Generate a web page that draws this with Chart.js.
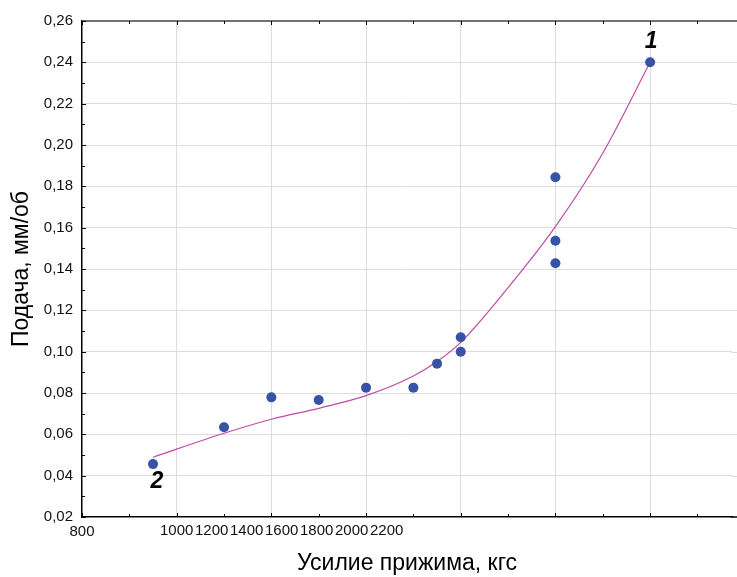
<!DOCTYPE html>
<html>
<head>
<meta charset="utf-8">
<script src="https://cdn.jsdelivr.net/npm/chart.js@4.4.1/dist/chart.umd.min.js"></script>
<style>
  html, body { margin: 0; padding: 0; background: #fff; }
</style>
</head>
<body>
<canvas id="chart" width="737" height="577"></canvas>
<script>
// --- DATA ---
// measured points
const pointsX = [950, 1100, 1200, 1300, 1400, 1500, 1550, 1600, 1600, 1800, 1800, 1800, 2000];
const pointsY = [0.0456, 0.0634, 0.0779, 0.0766, 0.0826, 0.0826, 0.0942, 0.1070, 0.1000, 0.1844, 0.1537, 0.1428, 0.2400];

// fitted curve
const curveX = [950, 1100, 1200, 1300, 1400, 1500, 1550, 1600, 1700, 1800, 1900, 2000];
const curveY = [0.0489, 0.0605, 0.0673, 0.0726, 0.0787, 0.0882, 0.0952, 0.1045, 0.1310, 0.1605, 0.1960, 0.2400];

// axis ticks
const xTicks = [800, 1000, 1200, 1400, 1600, 1800, 2000];
const xTickLabels = ['800', '1000', '1200', '1400', '1600', '1800', '2000', '2200'];
const yTicks = [0.02, 0.04, 0.06, 0.08, 0.10, 0.12, 0.14, 0.16, 0.18, 0.20, 0.22, 0.24, 0.26];

// curve end markers
const markText = ['1', '2'];
const markX = [2000, 950];
const markY = [0.24, 0.0456];

const FONT = "'Liberation Sans', Arial, sans-serif";

// --- extra drawing: inner ticks, frame, squeezed x labels, curve numbers ---
const decor = {
    id: 'decor',
    beforeDatasetsDraw(chart) {
        // horizontal grid runs on to the right edge of the picture
        const ctx = chart.ctx, ys = chart.scales.y, area = chart.chartArea;
        ctx.save();
        ctx.strokeStyle = '#dcdcdc';
        ctx.lineWidth = 1;
        yTicks.slice(1, -1).forEach(v => {
            const y = Math.round(ys.getPixelForValue(v)) + 0.5;
            ctx.beginPath();
            ctx.moveTo(area.right - 1, y);
            ctx.lineTo(chart.width, y);
            ctx.stroke();
        });
        ctx.restore();
    },
    afterDraw(chart) {
        const ctx = chart.ctx;
        const xs = chart.scales.x, ys = chart.scales.y;
        const area = chart.chartArea;
        ctx.save();

        // top frame line, and the frame runs on to the edge of the picture
        ctx.strokeStyle = '#444';
        ctx.lineWidth = 1.5;
        ctx.beginPath();
        ctx.moveTo(area.left, area.top);
        ctx.lineTo(chart.width, area.top);
        ctx.stroke();
        ctx.strokeStyle = '#000';
        ctx.beginPath();
        ctx.moveTo(area.right - 1, area.bottom);
        ctx.lineTo(chart.width, area.bottom);
        ctx.stroke();

        // inner tick marks
        ctx.lineWidth = 1;
        for (let i = 0; i <= 24; i++) {
            const y = Math.round(ys.getPixelForValue(0.02 + i * 0.01)) + 0.5;
            const len = i % 2 === 0 ? 4 : 3;
            ctx.beginPath();
            ctx.moveTo(area.left, y);
            ctx.lineTo(area.left + len, y);
            ctx.stroke();
        }
        for (let v = 800; v <= 2100; v += 100) {
            const x = Math.round(xs.getPixelForValue(v)) + 0.5;
            const len = v % 200 === 0 ? 4 : 3;
            ctx.beginPath();
            ctx.moveTo(x, area.bottom);
            ctx.lineTo(x, area.bottom - len);
            ctx.moveTo(x, area.top);
            ctx.lineTo(x, area.top + len);
            ctx.stroke();
        }

        // x labels after 800 are squeezed together, as in the original
        ctx.font = '15px ' + FONT;
        ctx.fillStyle = '#111';
        ctx.textAlign = 'left';
        ctx.textBaseline = 'middle';
        let lx = xs.getPixelForValue(1000) - ctx.measureText(xTickLabels[1]).width / 2;
        for (let i = 1; i < xTickLabels.length; i++) {
            ctx.fillText(xTickLabels[i], lx, area.bottom + 14);
            lx += 35;
        }

        // curve numbers
        ctx.font = 'italic bold 23px ' + FONT;
        ctx.fillStyle = '#000';
        ctx.textAlign = 'center';
        const offs = [[1, -21], [4, 18]];
        markText.forEach((t, i) => {
            ctx.fillText(t, xs.getPixelForValue(markX[i]) + offs[i][0],
                ys.getPixelForValue(markY[i]) + offs[i][1]);
        });
        ctx.restore();
    }
};

const ctx = document.getElementById('chart').getContext('2d');
new Chart(ctx, {
    type: 'scatter',
    data: {
        datasets: [
            {
                label: 'points',
                data: pointsX.map((x, i) => ({ x: x, y: pointsY[i] })),
                backgroundColor: '#3853a6',
                borderColor: '#3853a6',
                pointRadius: 5,
                borderWidth: 0,
                order: 1
            },
            {
                label: 'fit',
                data: curveX.map((x, i) => ({ x: x, y: curveY[i] })),
                showLine: true,
                borderColor: '#c04aa8',
                borderWidth: 1.2,
                pointRadius: 0,
                cubicInterpolationMode: 'monotone',
                order: 2
            }
        ]
    },
    options: {
        responsive: false,
        animation: false,
        layout: { padding: { top: 21, right: 0, left: 0, bottom: 0 } },
        plugins: {
            legend: { display: false },
            tooltip: { enabled: false }
        },
        scales: {
            x: {
                type: 'linear',
                min: 800,
                max: 2173,
                afterBuildTicks: s => { s.ticks = xTicks.map(v => ({ value: v })); },
                afterFit: s => { s.height = 60; },
                grid: {
                    drawTicks: false,
                    color: c => (c.tick && c.tick.value === 800) ? 'rgba(0,0,0,0)' : '#dcdcdc'
                },
                border: { color: '#000', width: 1.5 },
                ticks: {
                    padding: 6,
                    maxRotation: 0,
                    autoSkip: false,
                    color: '#111',
                    font: { family: FONT, size: 15 },
                    callback: v => v === 800 ? xTickLabels[0] : ''
                },
                title: {
                    display: true,
                    text: 'Усилие прижима, кгс',
                    color: '#000',
                    font: { family: FONT, size: 23 },
                    padding: { top: 0, bottom: 0 }
                }
            },
            y: {
                min: 0.02,
                max: 0.26,
                afterBuildTicks: s => { s.ticks = yTicks.map(v => ({ value: v })); },
                afterFit: s => { s.width = 82; },
                grid: {
                    drawTicks: false,
                    color: c => (c.tick && (c.tick.value <= 0.021 || c.tick.value >= 0.259)) ? 'rgba(0,0,0,0)' : '#dcdcdc'
                },
                border: { color: '#000', width: 1.5 },
                ticks: {
                    padding: 9,
                    color: '#111',
                    font: { family: FONT, size: 15 },
                    callback: v => v.toFixed(2).replace('.', ',')
                },
                title: {
                    display: true,
                    text: 'Подача, мм/об',
                    color: '#000',
                    font: { family: FONT, size: 23 },
                    padding: { top: 8, bottom: 0 }
                }
            }
        }
    },
    plugins: [decor]
});
</script>
</body>
</html>
